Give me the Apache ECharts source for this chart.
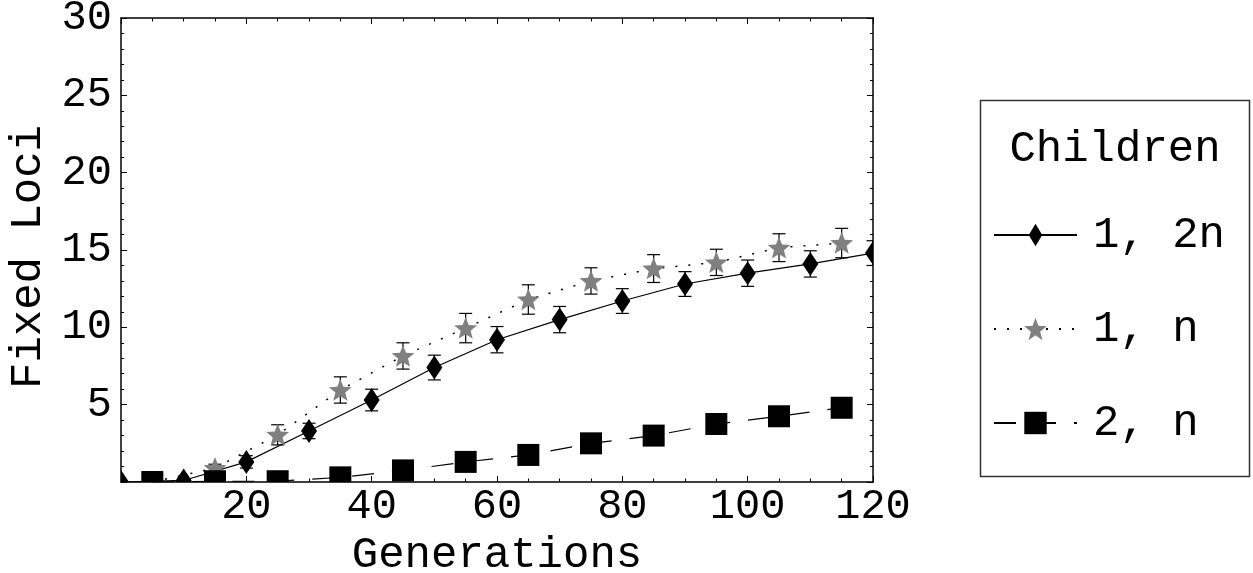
<!DOCTYPE html>
<html>
<head>
<meta charset="utf-8">
<title>Fixed Loci</title>
<script src="https://cdn.jsdelivr.net/npm/echarts@6/dist/echarts.min.js"></script>
<style>
  html, body { margin: 0; padding: 0; background: #fff; }
  #chart { width: 1253px; height: 573px; }
</style>
</head>
<body>
<div id="chart"></div>
<script>
// generations sampled for each series
const genDiamond = [0, 10, 20, 30, 40, 50, 60, 70, 80, 90, 100, 110, 120];
const genStar = [5, 15, 25, 35, 45, 55, 65, 75, 85, 95, 105, 115];
const genSquare = [5, 15, 25, 35, 45, 55, 65, 75, 85, 95, 105, 115];

// "1, 2n"
const lociDiamond = [0, 0.1, 1.3, 3.3, 5.3, 7.4, 9.2, 10.5, 11.7, 12.8, 13.5, 14.1, 14.8];
const errDiamond = [0, 0.1, 0.4, 0.5, 0.7, 0.8, 0.85, 0.85, 0.8, 0.8, 0.85, 0.85, 0.8];
// "1, n"
const lociStar = [0, 0.9, 3.05, 5.95, 8.15, 9.95, 11.8, 13.0, 13.8, 14.2, 15.15, 15.45];
const errStar = [0, 0.25, 0.65, 0.85, 0.85, 0.95, 0.95, 0.85, 0.9, 0.85, 0.9, 0.95];
// "2, n"
const lociSquare = [0, 0.05, 0.05, 0.3, 0.75, 1.3, 1.75, 2.5, 3.0, 3.75, 4.25, 4.8];

const seriesNames = ["1, 2n", "1, n", "2, n"];
const xTicks = { min: 0, max: 120, interval: 20 };
const yTicks = { min: 0, max: 30, interval: 5 };

const FONT = "Liberation Mono";
const GRAY = "#808080";

const chart = echarts.init(document.getElementById("chart"));

function pairs (xs, ys, es) {
  return xs.map((x, i) => (es ? [x, ys[i], es[i]] : [x, ys[i]]));
}

// marker outline around a pixel point
function markerShape (kind, p, color) {
  if (kind === "square") {
    return { type: "rect", shape: { x: p[0] - 11, y: p[1] - 11, width: 22, height: 22 }, style: { fill: color } };
  }
  if (kind === "diamond") {
    return {
      type: "polygon",
      shape: { points: [[p[0], p[1] - 12], [p[0] + 8, p[1]], [p[0], p[1] + 12], [p[0] - 8, p[1]]] },
      style: { fill: color },
    };
  }
  const pts = [];
  for (let k = 0; k < 10; k++) {
    const r = k % 2 === 0 ? 12 : 5.2;
    const a = -Math.PI / 2 + (k * Math.PI) / 5;
    pts.push([p[0] + r * Math.cos(a), p[1] + r * Math.sin(a) + 1]);
  }
  return { type: "polygon", shape: { points: pts }, style: { fill: color } };
}

function markSeries (name, data, kind, color) {
  return {
    type: "custom",
    name,
    clip: true,
    z: 3,
    silent: true,
    encode: { x: 0, y: 1 },
    data,
    renderItem (params, api) {
      const x = api.value(0);
      const y = api.value(1);
      const e = api.value(2);
      const p = api.coord([x, y]);
      const children = [];
      if (e > 0) {
        const top = api.coord([x, y + e])[1];
        const bot = api.coord([x, y - e])[1];
        const bar = { stroke: "#000", lineWidth: 1.2 };
        children.push({ type: "line", shape: { x1: p[0], y1: top, x2: p[0], y2: bot }, style: bar });
        children.push({ type: "line", shape: { x1: p[0] - 6.5, y1: top, x2: p[0] + 6.5, y2: top }, style: bar });
        children.push({ type: "line", shape: { x1: p[0] - 6.5, y1: bot, x2: p[0] + 6.5, y2: bot }, style: bar });
      }
      children.push(markerShape(kind, p, color));
      return { type: "group", children };
    },
  };
}

function lineSeries (name, data, symbol, color, lineStyle) {
  return {
    type: "line",
    name,
    data,
    symbol,
    symbolSize: 22,
    showSymbol: false,
    z: 2,
    silent: true,
    itemStyle: { color },
    lineStyle: Object.assign({ color: "#000", width: 1.2 }, lineStyle),
  };
}

const axisText = { fontFamily: FONT, fontSize: 42, color: "#000", lineHeight: 42 };
const nameText = { fontFamily: FONT, fontSize: 44, color: "#000", lineHeight: 44 };

function xAxisDef (pos, labels) {
  return {
    type: "value",
    position: pos,
    min: xTicks.min,
    max: xTicks.max,
    interval: xTicks.interval,
    axisLine: { show: true, onZero: false, lineStyle: { color: "#000", width: 1.5 } },
    axisTick: { inside: true, length: 6, lineStyle: { color: "#000" } },
    minorTick: { show: true, splitNumber: 4, length: 3.5, lineStyle: { color: "#000" } },
    splitLine: { show: false },
    axisLabel: Object.assign({ show: labels, margin: 4, formatter: (v) => (v === 0 ? "" : v) }, axisText),
  };
}

function yAxisDef (pos, labels) {
  return {
    type: "value",
    position: pos,
    min: yTicks.min,
    max: yTicks.max,
    interval: yTicks.interval,
    axisLine: { show: true, onZero: false, lineStyle: { color: "#000", width: 1.5 } },
    axisTick: { inside: true, length: 6, lineStyle: { color: "#000" } },
    minorTick: { show: true, splitNumber: 5, length: 3, lineStyle: { color: "#000" } },
    splitLine: { show: false },
    axisLabel: Object.assign({ show: labels, margin: 9, formatter: (v) => (v === 0 ? "" : v) }, axisText),
  };
}

const xMain = xAxisDef("bottom", true);
xMain.name = "Generations";
xMain.nameLocation = "middle";
xMain.nameGap = 51;
xMain.nameTextStyle = nameText;

const yMain = yAxisDef("left", true);
yMain.name = "Fixed Loci";
yMain.nameLocation = "middle";
yMain.nameGap = 71;
yMain.nameTextStyle = Object.assign({ padding: [0, 14, 0, 0] }, nameText);

const option = {
  backgroundColor: "#FFFFFF",
  animation: false,
  grid: { left: 121, right: 380, top: 18, bottom: 91, outerBoundsMode: "none", containLabel: false },
  xAxis: [xMain, xAxisDef("top", false)],
  yAxis: [yMain, yAxisDef("right", false)],
  legend: {
    data: seriesNames,
    orient: "vertical",
    left: 993,
    top: 213,
    padding: 0,
    itemWidth: 83,
    itemHeight: 28,
    itemGap: 50,
    selectedMode: false,
    textStyle: Object.assign({ padding: [0, 0, 0, 11] }, nameText),
  },
  graphic: [
    {
      type: "rect",
      shape: { x: 980.5, y: 100.5, width: 269, height: 376 },
      style: { fill: "none", stroke: "#333", lineWidth: 1.5 },
    },
    {
      type: "text",
      x: 1115,
      y: 149,
      style: { text: "Children", font: "44px '" + FONT + "'", fill: "#000", align: "center", verticalAlign: "middle" },
    },
  ],
  series: [
    lineSeries(seriesNames[0], pairs(genDiamond, lociDiamond), "path://M-10,0M10,0M0,0L6,10L0,20L-6,10Z", "#000", { type: "solid" }),
    lineSeries(seriesNames[1], pairs(genStar, lociStar), "path://M0,-12L2.9,-4.2L11.4,-3.7L4.7,1.6L7.1,9.7L0,5L-7.1,9.7L-4.7,1.6L-11.4,-3.7L-2.9,-4.2Z", GRAY, { type: [2, 11], width: 1.5 }),
    lineSeries(seriesNames[2], pairs(genSquare, lociSquare), "rect", "#000", { type: [22, 18] }),
    markSeries("marks 1, 2n", pairs(genDiamond, lociDiamond, errDiamond), "diamond", "#000"),
    markSeries("marks 1, n", pairs(genStar, lociStar, errStar), "star", GRAY),
    markSeries("marks 2, n", pairs(genSquare, lociSquare), "square", "#000"),
  ],
};

chart.setOption(option);
</script>
</body>
</html>
